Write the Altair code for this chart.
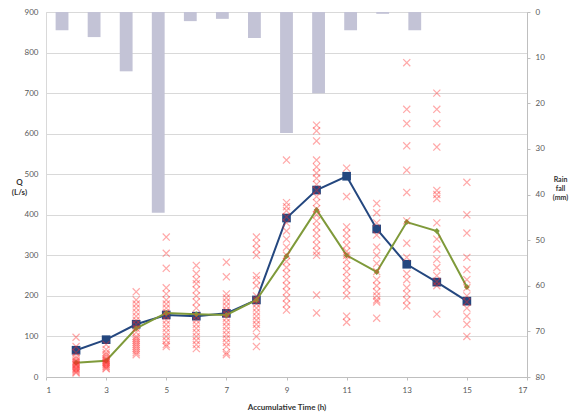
import altair as alt
import pandas as pd

# Rainfall (secondary axis, 15 hourly categories)
rain_cat = list(range(1, 16))
rain_mm = [4, 5.5, 13, 44, 2, 1.5, 5.7, 26.5, 17.8, 4, 0.4, 4, 0, 0, 0]

# Lines
hours = [2, 3, 4, 5, 6, 7, 8, 9, 10, 11, 12, 13, 14, 15]
q_blue = [66, 92, 130, 153, 150, 157, 190, 392, 461, 495, 365, 278, 234, 187]
q_green = [35, 40, 120, 158, 155, 153, 190, 298, 412, 300, 259, 382, 360, 222]

# Scattered observations per hour
obs_h2 = [98, 75, 60, 50, 45, 40, 38, 35, 32, 30, 28, 25, 22, 20, 18, 15, 12, 10]
obs_h3 = [80, 68, 60, 55, 50, 45, 42, 40, 37, 35, 32, 30, 27, 25, 22, 20]
obs_h4 = [210, 190, 180, 170, 160, 150, 140, 130, 120, 110, 100, 95, 90, 85, 80, 75, 70, 65, 60, 55]
obs_h5 = [345, 305, 268, 220, 205, 190, 180, 170, 160, 150, 140, 130, 120, 110, 100, 90, 80, 75]
obs_h6 = [275, 255, 240, 230, 215, 200, 185, 170, 150, 140, 130, 120, 110, 100, 90, 80, 70]
obs_h7 = [283, 247, 205, 195, 185, 175, 165, 155, 145, 135, 125, 115, 105, 95, 85, 75, 60, 55]
obs_h8 = [345, 330, 315, 300, 250, 240, 225, 200, 190, 180, 170, 160, 150, 140, 130, 120, 100, 75]
obs_h9 = [535, 430, 420, 410, 395, 380, 360, 340, 320, 300, 285, 270, 255, 240, 225, 210, 195, 180, 165]
obs_h10 = [621, 607, 582, 535, 518, 503, 490, 475, 460, 445, 430, 415, 400, 385, 370, 355, 340, 325, 310, 300, 202, 158]
obs_h11 = [515, 445, 370, 355, 340, 325, 310, 300, 290, 275, 260, 245, 230, 215, 200, 150, 135]
obs_h12 = [428, 405, 380, 350, 320, 300, 280, 260, 240, 225, 210, 200, 190, 185, 145]
obs_h13 = [775, 660, 625, 570, 510, 455, 385, 330, 295, 255, 240, 220, 205, 190, 175]
obs_h14 = [700, 660, 625, 567, 460, 450, 440, 380, 340, 315, 290, 270, 250, 235, 225, 155]
obs_h15 = [480, 400, 355, 295, 265, 240, 220, 200, 185, 170, 150, 130, 100]

x_ticks = [1, 3, 5, 7, 9, 11, 13, 15, 17]
q_ticks = [0, 100, 200, 300, 400, 500, 600, 700, 800, 900]
rain_ticks = [0, 10, 20, 30, 40, 50, 60, 70, 80]

obs_all = [obs_h2, obs_h3, obs_h4, obs_h5, obs_h6, obs_h7, obs_h8, obs_h9,
           obs_h10, obs_h11, obs_h12, obs_h13, obs_h14, obs_h15]
scatter_rows = []
for h, vals in zip(hours, obs_all):
    for v in vals:
        scatter_rows.append({"t": h, "q": v})
df_sc = pd.DataFrame(scatter_rows)
df_rain = pd.DataFrame({"cat": rain_cat, "rain": rain_mm})
df_blue = pd.DataFrame({"t": hours, "q": q_blue})
df_green = pd.DataFrame({"t": hours, "q": q_green})

FONT = "Lato"
LAB = "#595959"

xq = alt.X("t:Q", scale=alt.Scale(domain=[1, 17], nice=False),
           axis=alt.Axis(values=x_ticks, title="Accumulative Time (h)", grid=False,
                         domainColor="#BFBFBF", tickColor="#BFBFBF", tickSize=3,
                         labelFont=FONT, labelFontSize=8, labelColor=LAB, labelPadding=6,
                         titleFont=FONT, titleFontSize=8, titleFontWeight="bold",
                         titleColor="#333333", titlePadding=9))
yq = alt.Y("q:Q", scale=alt.Scale(domain=[0, 900], nice=False),
           axis=alt.Axis(values=q_ticks, title=["Q", "(L/s)"], grid=True, gridColor="#D9D9D9",
                         domainColor="#D9D9D9", ticks=False,
                         labelFont=FONT, labelFontSize=8, labelColor=LAB, labelPadding=8,
                         titleFont=FONT, titleFontSize=8, titleFontWeight="bold",
                         titleColor="#333333", titleAngle=0, titleAlign="center",
                         titleBaseline="top", titleX=-27, titleY=166))

bars = alt.Chart(df_rain).mark_bar(color="#C3C3D6").encode(
    x=alt.X("cat:O", scale=alt.Scale(paddingInner=0.6, paddingOuter=0.3), axis=None),
    y=alt.Y("rain:Q", scale=alt.Scale(domain=[0, 80], reverse=True, nice=False),
            axis=alt.Axis(orient="right", values=rain_ticks, title=["Rain", "fall", "(mm)"],
                          grid=False, domainColor="#BFBFBF", tickColor="#BFBFBF", tickSize=3,
                          labelFont=FONT, labelFontSize=8, labelColor=LAB, labelPadding=5,
                          titleFont=FONT, titleFontSize=7, titleFontWeight="bold",
                          titleColor="#333333", titleAngle=0, titleAlign="center",
                          titleBaseline="top", titleX=33, titleY=163)),
)

cross = "M-1,-1L1,1M-1,1L1,-1"
scatter = alt.Chart(df_sc).mark_point(shape=cross, filled=False, color="#FF2A2A",
                                      opacity=0.4, strokeWidth=1.2, size=50).encode(x=xq, y=yq)

blue_line = alt.Chart(df_blue).mark_line(color="#24477F", strokeWidth=2).encode(x=xq, y=yq)
blue_pts = alt.Chart(df_blue).mark_point(shape="square", filled=True, color="#24477F",
                                         opacity=1, size=75).encode(x=xq, y=yq)
green_line = alt.Chart(df_green).mark_line(color="#7F9A3A", strokeWidth=2).encode(x=xq, y=yq)
green_pts = alt.Chart(df_green).mark_point(shape="diamond", filled=True, color="#7F9A3A",
                                           opacity=1, size=35).encode(x=xq, y=yq)

main = alt.layer(blue_line, blue_pts, green_line, green_pts, scatter)

chart = alt.layer(bars, main).resolve_scale(x="independent", y="independent").properties(
    width=481, height=365,
    padding={"left": 38, "top": 4, "right": 42, "bottom": 38},
    autosize=alt.AutoSizeParams(type="none"),
).configure_view(stroke=None).configure(background="white")

chart.save("out.html", embed_options={"renderer": "svg", "actions": False})
